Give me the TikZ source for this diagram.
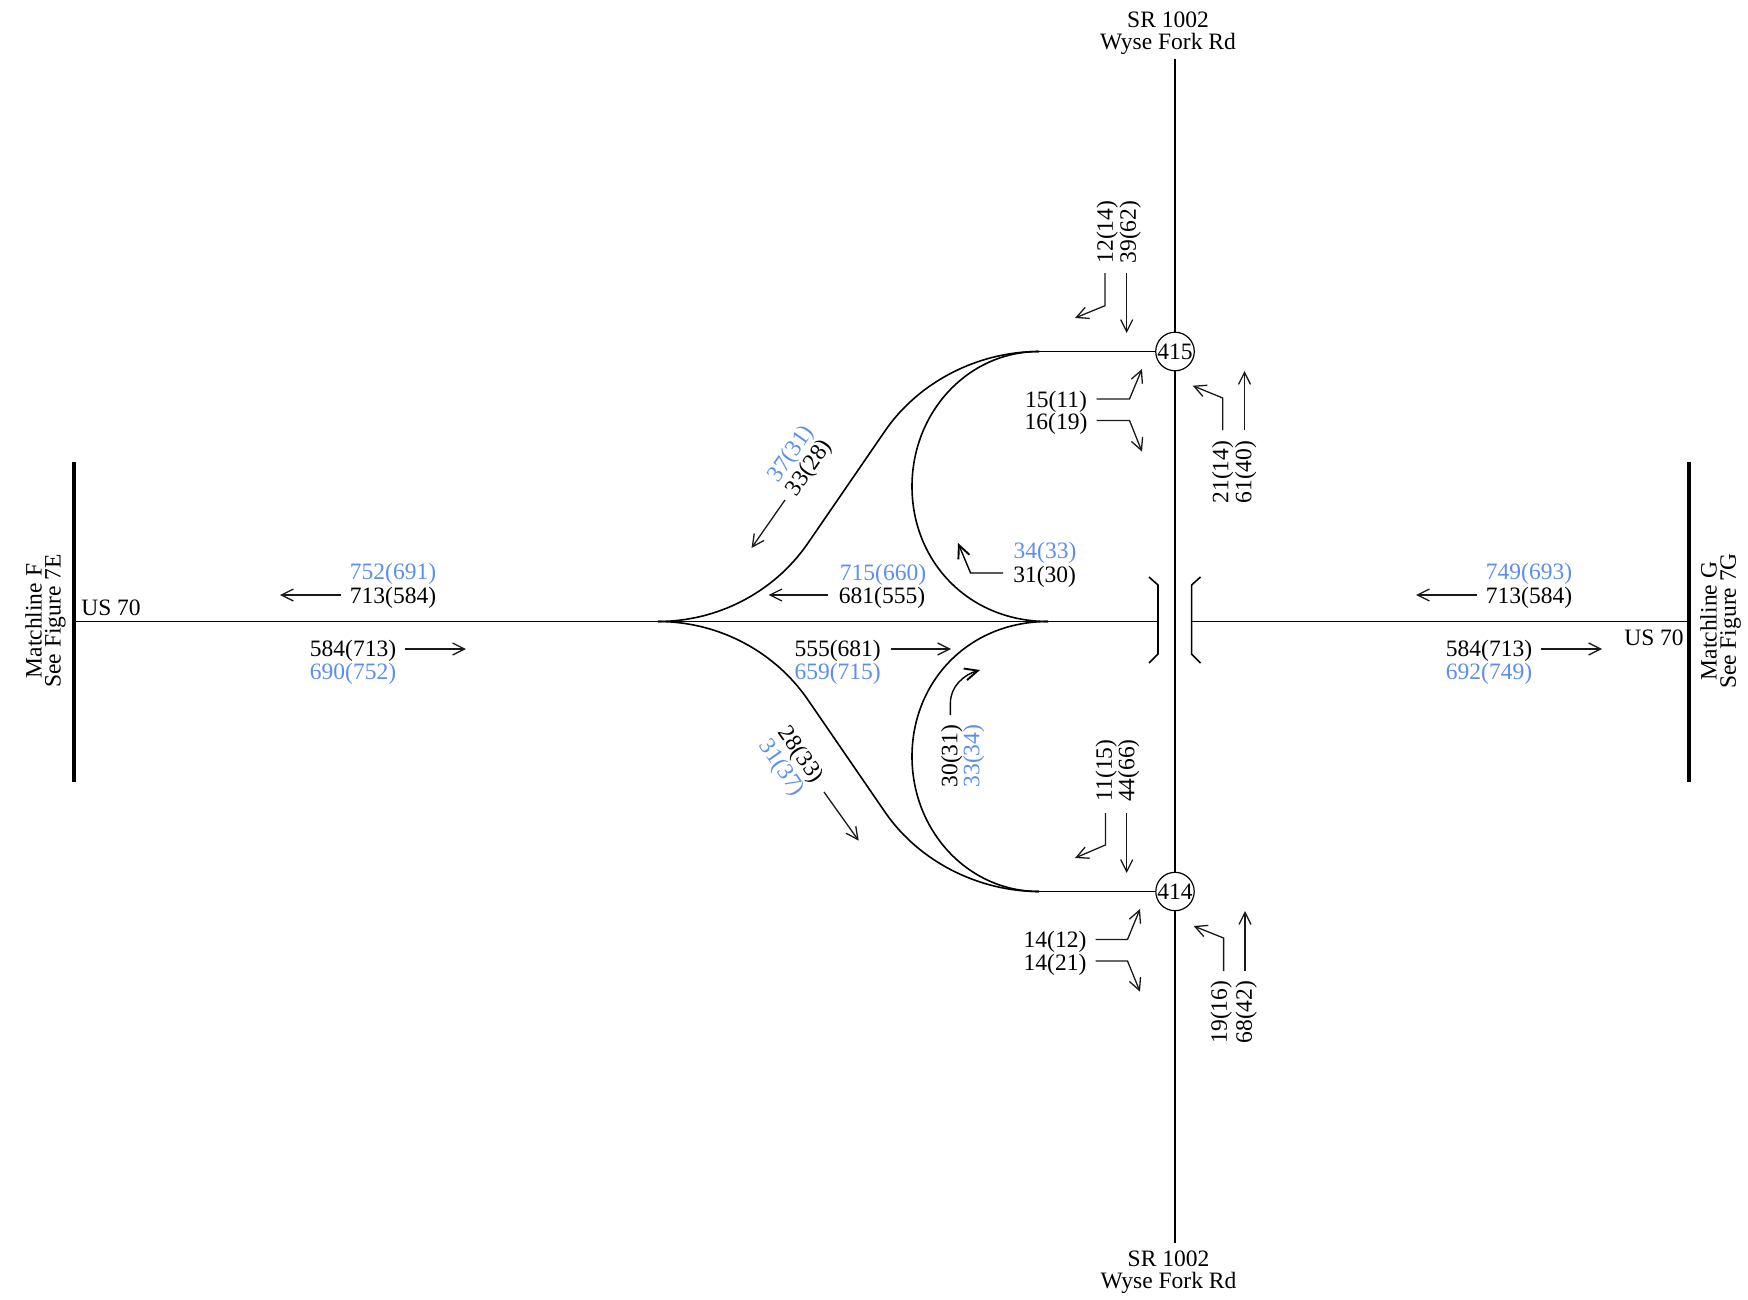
\documentclass[tikz,border=0pt]{standalone}
\usepackage{fontspec}
\setmainfont{Liberation Serif}
\usetikzlibrary{arrows.meta}
\definecolor{flowblue}{HTML}{5C8EEF}
\tikzset{
  road/.style={line width=1.6pt,black,line cap=butt},
  matchbar/.style={line width=3.2pt,black},
  flow/.style={line width=1.3pt,black!90,-{Straight Barb[length=12pt,width=12pt,line width=1.3pt]}},
  boldflow/.style={line width=1.4pt,black,-{Straight Barb[length=13pt,width=12pt,line width=1.9pt]}},
  txt/.style={inner sep=0pt,font=\fontsize{23.5}{24}\selectfont,text=black},
  btxt/.style={txt,text=flowblue},
  lbl/.style={txt,yshift=-2.2pt},
  blbl/.style={btxt,yshift=-2.2pt},
  vlbl/.style={txt,xshift=2.2pt,rotate=90},
  vblbl/.style={btxt,xshift=2.2pt,rotate=90},
  junction/.style={circle,draw,fill=white,line width=1.2pt,minimum size=38pt,inner sep=0pt,font=\fontsize{23.5}{24}\selectfont}
}
\begin{document}
\begin{tikzpicture}[x=1pt,y=-1pt]
\path[use as bounding box] (0,0) rectangle (1748,1300);
% roads
\coordinate (topend) at (1175,59);
\coordinate (botend) at (1175,1243);
\coordinate (leftend) at (74,621.6);
\coordinate (rightend) at (1689,621.6);
\coordinate (bridgeL) at (1158,621.6);
\coordinate (bridgeR) at (1191.6,621.6);
\draw[road] (topend) -- (botend);
\draw[road] (leftend) -- (bridgeL);
\draw[road] (bridgeR) -- (rightend);
\node[junction] (n415) at (1175,351.5) {415};
\node[junction] (n414) at (1175,891.5) {414};
\coordinate (rampU) at (1039,351.5);
\coordinate (rampD) at (1039,891.5);
\draw[road] (n415.west) -- (rampU);
\draw[road] (n414.west) -- (rampD);
% outer ramps
\draw[road] (rampU) .. controls (979,351.5) and (920,381) .. (886,429.5) -- (807,544.5) .. controls (773,593) and (717,621.5) .. (658,621.5);
\draw[road] (rampD) .. controls (979,891.5) and (920,862) .. (886,813.5) -- (807,698.5) .. controls (773,650) and (717,621.5) .. (658,621.5);
% inner loops
\draw[road] (rampU) .. controls (968,351.5) and (912,412) .. (912,486.5) .. controls (912,561) and (968,621.5) .. (1048,621.5);
\draw[road] (rampD) .. controls (968,891.5) and (912,831) .. (912,756.5) .. controls (912,682) and (968,621.5) .. (1048,621.5);
% bridge
\draw[road] (1149,577) -- (1158,585) -- (1158,654) -- (1149,663);
\draw[road] (1200.5,577) -- (1191.6,585) -- (1191.6,654) -- (1200.5,663);
% matchlines
\draw[matchbar] (74,462) -- (74,782);
\draw[matchbar] (1689,462) -- (1689,782);
% road names
\node[txt,rotate=90] (mf1) at (33.5,621) {Matchline F};
\node[txt,rotate=90] (mf2) at (55.5,621) {See Figure 7E};
\node[txt,rotate=90] (mg1) at (1708.5,621) {Matchline G};
\node[txt,rotate=90] (mg2) at (1730.5,621) {See Figure 7G};
\node[txt] (us1) at (111,608) {US 70};
\node[txt] (us2) at (1654,638) {US 70};
\node[txt] (sr1) at (1168,20) {SR 1002};
\node[txt] (wf1) at (1168,43.5) {Wyse Fork Rd};
\node[txt] (sr2) at (1168.5,1259) {SR 1002};
\node[txt] (wf2) at (1168.5,1283) {Wyse Fork Rd};
% US 70 west
\node[blbl] (a1) at (393,572) {752(691)};
\node[lbl] (a2) at (393,595.5) {713(584)};
\draw[flow] (340.7,595) -- (280,595);
\node[lbl] (b1) at (353,649) {584(713)};
\node[blbl] (b2) at (353,672) {690(752)};
\draw[flow] (405,649) -- (466,649);
% US 70 east
\node[blbl] (c1) at (1529,572) {749(693)};
\node[lbl] (c2) at (1529,595.5) {713(584)};
\draw[flow] (1477,595) -- (1416,595);
\node[lbl] (d1) at (1489,649) {584(713)};
\node[blbl] (d2) at (1489,672) {692(749)};
\draw[flow] (1541,649) -- (1602,649);
% centre
\node[blbl] (e1) at (883,573) {715(660)};
\node[lbl] (e2) at (882,596) {681(555)};
\draw[flow] (828,595) -- (768.5,595);
\node[lbl] (f1) at (837.7,649) {555(681)};
\node[blbl] (f2) at (837.7,672) {659(715)};
\draw[flow] (891,649) -- (951,649);
% ramps
\node[btxt,rotate=55] (g1) at (791.8,454.3) {37(31)};
\node[txt,rotate=55] (g2) at (809.8,468.3) {33(28)};
\draw[flow] (785,500) -- (751.5,548);
\node[txt,rotate=-55] (h1) at (800,755.3) {28(33)};
\node[btxt,rotate=-55] (h2) at (781,768.3) {31(37)};
\draw[flow] (824,792) -- (858.7,840.7);
% loops
\node[blbl] (i1) at (1045,551) {34(33)};
\node[lbl] (i2) at (1044.6,575) {31(30)};
\draw[boldflow] (1003,573) -- (970.6,573) -- (958,543);
\node[vlbl] (j1) at (949.5,756) {30(31)};
\node[vblbl] (j2) at (971.5,756) {33(34)};
\draw[boldflow] (950.4,715) -- (950.4,703) .. controls (950.4,687) and (963,675) .. (980,670);
% node 415
\node[vlbl] (k1) at (1105,232) {12(14)};
\node[vlbl] (k2) at (1128,232) {39(62)};
\draw[flow] (1105,273) -- (1105,305.7) -- (1075,318);
\draw[flow] (1126.7,273) -- (1126.7,333);
\node[lbl] (l1) at (1056,400) {15(11)};
\node[lbl] (l2) at (1056,422) {16(19)};
\draw[flow] (1096.7,399) -- (1129.5,399) -- (1142,369);
\draw[flow] (1096.7,420.5) -- (1129.5,420.5) -- (1142,451.7);
\node[vlbl] (m1) at (1220.5,472) {21(14)};
\node[vlbl] (m2) at (1243.5,472) {61(40)};
\draw[flow] (1222.7,430) -- (1222.7,398) -- (1192.7,385.7);
\draw[flow] (1244.5,430) -- (1244.5,371);
% node 414
\node[vlbl] (o1) at (1104,770.5) {11(15)};
\node[vlbl] (o2) at (1126.4,770.5) {44(66)};
\draw[flow] (1105.4,813) -- (1105.4,845) -- (1075,858);
\draw[flow] (1126.7,813) -- (1126.7,873);
\node[lbl] (p1) at (1055,940) {14(12)};
\node[lbl] (p2) at (1055,963) {14(21)};
\draw[flow] (1095.5,939.5) -- (1127.5,939.5) -- (1140,909);
\draw[flow] (1095.5,961) -- (1127.5,961) -- (1140,991.7);
\node[vlbl] (q1) at (1219,1012) {19(16)};
\node[vlbl] (q2) at (1244,1012) {68(42)};
\draw[flow] (1223.6,971) -- (1223.6,938) -- (1193.6,926);
\draw[flow] (1245,971) -- (1245,911);
\end{tikzpicture}
\end{document}
